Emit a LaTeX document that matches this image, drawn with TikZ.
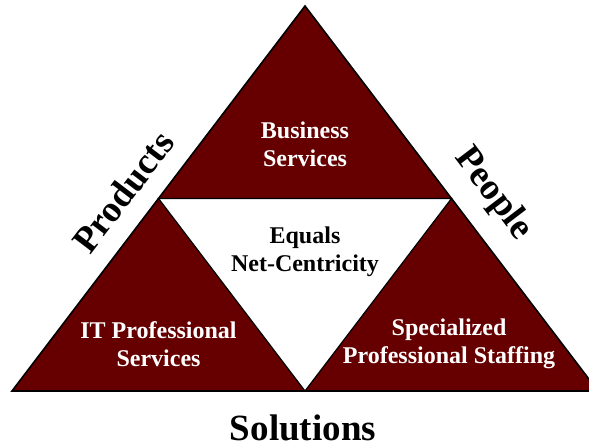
\documentclass[tikz,border=0pt]{standalone}
\usepackage{fontspec}
\setmainfont{Liberation Serif}
\usepackage{xcolor}
\definecolor{maroon}{HTML}{660000}

\begin{document}
\begin{tikzpicture}[x=1pt, y=1pt, part/.style = {fill=maroon}, inner/.style = {font=\fontsize{24}{28}\selectfont\bfseries, align=center, inner sep=0pt}, side/.style = {font=\fontsize{37}{40}\selectfont\bfseries, inner sep=0pt}]
            \useasboundingbox (0,0) rectangle (589,446);
            \coordinate (left) at (12,55);
            \coordinate (apex) at (305,440);
            \coordinate (right) at (598,55);
            \coordinate (midl) at (158.5,247.5);
            \coordinate (midr) at (451.5,247.5);
            \coordinate (bot) at (305,55);

            \fill[part] (left) -- (apex) -- (right) -- cycle;
            \fill[white] (midl) -- (midr) -- (bot) -- cycle;
            \draw[line width=1.6pt] (left) -- (apex) -- (right) -- cycle;
            \draw[line width=1.2pt] (midl) -- (midr) -- (bot) -- cycle;

            \node[inner, white] (business) at (305,302) {Business\\Services};
            \node[inner] (equals) at (305,194) {Equals\\Net-Centricity};
            \node[inner, white] (itpro) at (158.5,102) {IT Professional\\Services};
            \node[inner, white] (staffing) at (449,102) {Specialized\\Professional Staffing};

            \node[side, rotate=52.7] (products) at (123,254) {Products};
            \node[side, rotate=-52.7] (people) at (493,252) {People};
            \node[side, anchor=base] (solutions) at (303,5) {Solutions};
        \end{tikzpicture}
\end{document}
